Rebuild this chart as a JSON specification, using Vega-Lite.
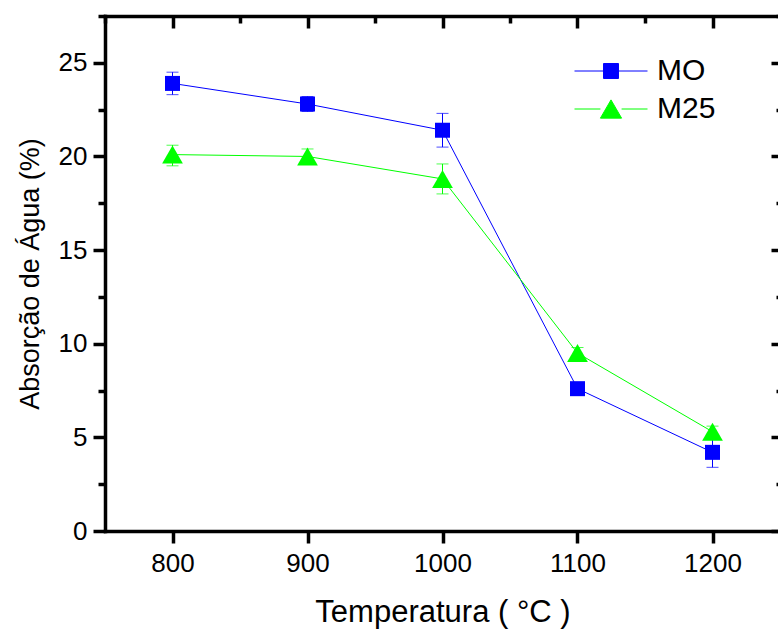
{
  "$schema": "https://vega.github.io/schema/vega-lite/v6.json",
  "autosize": "none",
  "width": 675,
  "height": 515,
  "padding": {"left": 105, "top": 16, "right": 0, "bottom": 102},
  "background": "white",
  "config": {
    "view": {"stroke": null},
    "font": "Liberation Sans",
    "axis": {
      "domainColor": "black", "domainWidth": 3.5, "tickColor": "black", "tickWidth": 3.5,
      "labelFont": "Liberation Sans", "labelFontSize": 26, "labelColor": "black",
      "titleFont": "Liberation Sans", "titleFontWeight": "normal", "titleColor": "black",
      "grid": false, "tickCap": "butt", "domainCap": "square"
    },
    "legend": {
      "padding": 0, "offset": 0, "clipHeight": 30, "rowPadding": 8, "symbolSize": 5329, "symbolStrokeWidth": 1,
      "labelOffset": 9, "labelFontSize": 30, "labelFont": "Liberation Sans", "labelColor": "black", "symbolOpacity": 1
    }
  },
  "data": {
    "values": [
      {"T": 800, "s": "MO", "v": 23.9, "lo": 23.3, "hi": 24.5},
      {"T": 900, "s": "MO", "v": 22.8, "lo": 22.4, "hi": 23.2},
      {"T": 1000, "s": "MO", "v": 21.4, "lo": 20.5, "hi": 22.3},
      {"T": 1100, "s": "MO", "v": 7.6, "lo": 7.4, "hi": 7.8},
      {"T": 1200, "s": "MO", "v": 4.2, "lo": 3.4, "hi": 5.0},
      {"T": 800, "s": "M25", "v": 20.1, "lo": 19.5, "hi": 20.6},
      {"T": 900, "s": "M25", "v": 20.0, "lo": 19.6, "hi": 20.4},
      {"T": 1000, "s": "M25", "v": 18.8, "lo": 18.0, "hi": 19.6},
      {"T": 1100, "s": "M25", "v": 9.5, "lo": 9.2, "hi": 9.8},
      {"T": 1200, "s": "M25", "v": 5.3, "lo": 5.0, "hi": 5.6}
    ]
  },
  "resolve": {"axis": {"x": "independent", "y": "independent"}},
  "layer": [
    {
      "mark": {"type": "line", "strokeWidth": 1},
      "encoding": {
        "x": {"field": "T", "type": "quantitative",
          "scale": {"domain": [750, 1250], "nice": false, "zero": false},
          "axis": {"orient": "bottom", "values": [800, 900, 1000, 1100, 1200], "format": "d", "tickSize": 12, "labelPadding": 7, "title": "Temperatura ( °C )", "titleFontSize": 31, "titlePadding": 21, "labelFlush": false}},
        "y": {"field": "v", "type": "quantitative",
          "scale": {"domain": [0, 27.5], "nice": false, "zero": false},
          "axis": {"orient": "left", "values": [0, 2.5, 5, 7.5, 10, 12.5, 15, 17.5, 20, 22.5, 25, 27.5],
            "tickSize": {"condition": {"test": "datum.value % 5 === 0", "value": 12}, "value": 7},
            "labelExpr": "datum.value % 5 === 0 ? datum.label : ''", "labelPadding": 6,
            "title": "Absorção de Água (%)", "titleFontSize": 27, "titlePadding": 14, "labelFlush": false}},
        "color": {"field": "s", "type": "nominal", "scale": {"domain": ["MO", "M25"], "range": ["#0000ff", "#00ff00"]},
          "legend": {
            "orient": "none", "legendX": 469, "legendY": 40, "title": null,
            "encode": {
              "symbols": {
                "update": {
                  "shape": {"signal": "datum.value === 'MO' ? 'M-1,0H-0.205M0.205,0H1M-0.205,-0.205H0.205V0.205H-0.205Z' : 'M-1,0H-0.29M0.29,0H1M0,-0.25L0.29,0.25H-0.29Z'"},
                  "stroke": {"scale": "color", "field": "value"},
                  "fill": {"scale": "color", "field": "value"},
                  "strokeWidth": {"value": 1},
                  "size": {"value": 5329},
                  "opacity": {"value": 1}
                }
              }
            }
          }
        }
      }
    },
    {
      "mark": {"type": "rule", "strokeWidth": 1},
      "encoding": {
        "x": {"field": "T", "type": "quantitative", "axis": null},
        "y": {"field": "lo", "type": "quantitative", "axis": null},
        "y2": {"field": "hi"},
        "color": {"field": "s", "type": "nominal"}
      }
    },
    {
      "mark": {"type": "tick", "orient": "horizontal", "size": 12, "thickness": 1},
      "encoding": {
        "x": {"field": "T", "type": "quantitative", "axis": null},
        "y": {"field": "lo", "type": "quantitative", "axis": null},
        "color": {"field": "s", "type": "nominal"}
      }
    },
    {
      "mark": {"type": "tick", "orient": "horizontal", "size": 12, "thickness": 1},
      "encoding": {
        "x": {"field": "T", "type": "quantitative", "axis": null},
        "y": {"field": "hi", "type": "quantitative", "axis": null},
        "color": {"field": "s", "type": "nominal"}
      }
    },
    {
      "transform": [{"filter": "datum.s === 'MO'"}],
      "mark": {"type": "point", "filled": true, "opacity": 1, "shape": "square", "size": 225},
      "encoding": {
        "x": {"field": "T", "type": "quantitative", "axis": null},
        "y": {"field": "v", "type": "quantitative", "axis": null},
        "color": {"field": "s", "type": "nominal"}
      }
    },
    {
      "transform": [{"filter": "datum.s === 'M25'"}],
      "mark": {"type": "point", "filled": true, "opacity": 1, "shape": "triangle-up", "size": 430},
      "encoding": {
        "x": {"field": "T", "type": "quantitative", "axis": null},
        "y": {"field": "v", "type": "quantitative", "axis": null},
        "color": {"field": "s", "type": "nominal"}
      }
    },
    {
      "mark": {"type": "point", "opacity": 0},
      "encoding": {
        "x": {"field": "T", "type": "quantitative",
          "axis": {"orient": "top", "values": [750, 800, 850, 900, 950, 1000, 1050, 1100, 1150, 1200, 1250],
            "tickSize": {"condition": {"test": "datum.value % 100 === 0", "value": -12}, "value": -7},
            "labels": false, "title": null}},
        "y": {"field": "v", "type": "quantitative",
          "axis": {"orient": "right", "values": [0, 2.5, 5, 7.5, 10, 12.5, 15, 17.5, 20, 22.5, 25, 27.5],
            "tickSize": {"condition": {"test": "datum.value % 5 === 0", "value": -9}, "value": -4},
            "labels": false, "title": null}}
      }
    }
  ]
}
